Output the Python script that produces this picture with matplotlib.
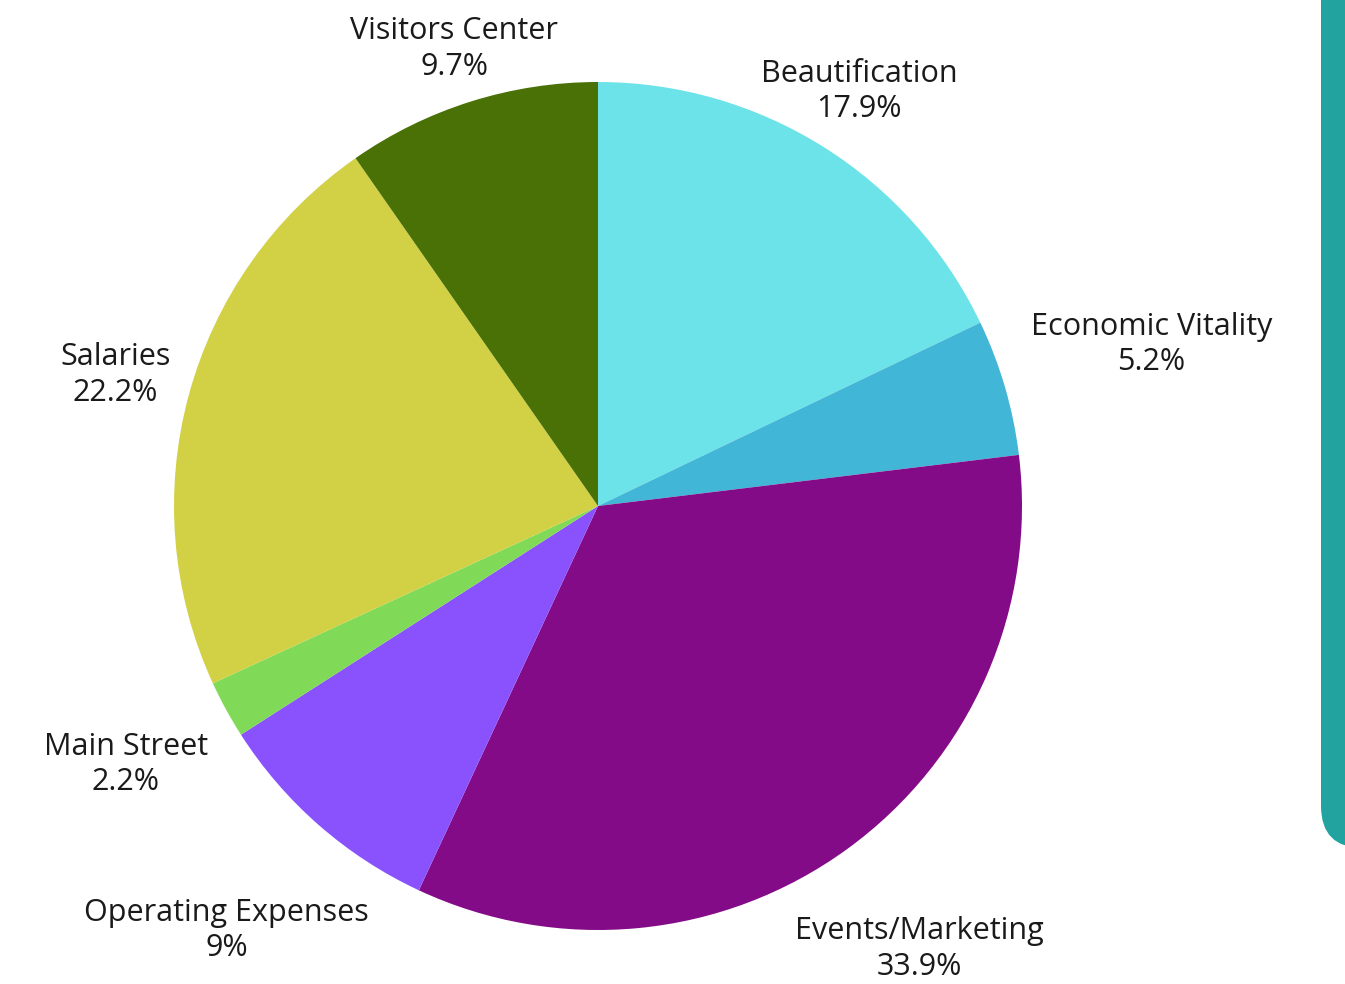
import matplotlib
matplotlib.use("Agg")
import matplotlib.pyplot as plt
import matplotlib.transforms as mtransforms
from matplotlib.patches import FancyBboxPatch
import numpy as np

categories = ["Beautification", "Economic Vitality", "Events/Marketing",
              "Operating Expenses", "Main Street", "Salaries", "Visitors Center"]
values = [17.9, 5.2, 33.9, 9.0, 2.2, 22.2, 9.7]
pct_labels = ["17.9%", "5.2%", "33.9%", "9%", "2.2%", "22.2%", "9.7%"]
colors = ["#6BE3E8", "#42B6D6", "#840B88", "#8A52FC", "#80DA58", "#D2D146", "#497106"]
label_dist = [1.155, 1.36, 1.29, 1.33, 1.27, 1.18, 1.13]

W, H = 1345, 984
fig = plt.figure(figsize=(W / 100, H / 100), dpi=100)
ax = fig.add_axes([0, 0, 1, 1])
R = 424.0
cx, cy = 598.0, H - 506.0

wedges, _ = ax.pie(values, colors=colors, startangle=90, counterclock=False,
                   radius=1.0, center=(0, 0), frame=True,
                   wedgeprops=dict(linewidth=0))
ax.set_xlim(-cx / R, (W - cx) / R)
ax.set_ylim(-cy / R, (H - cy) / R)
ax.set_aspect("equal")
ax.axis("off")

font = ["Open Sans", "DejaVu Sans"]
for w, name, pct, d in zip(wedges, categories, pct_labels, label_dist):
    ang = np.deg2rad((w.theta1 + w.theta2) / 2)
    x, y = d * np.cos(ang), d * np.sin(ang)
    ax.text(x, y, f"{name}\n{pct}", ha="center", va="center",
            fontsize=22, family=font, color="#1a1a1a", linespacing=1.25)

bar = FancyBboxPatch((1321, 136), 200, 1000,
                     boxstyle="round,pad=0,rounding_size=42",
                     facecolor="#22A39F", edgecolor="none",
                     transform=mtransforms.IdentityTransform())
fig.add_artist(bar)

fig.savefig("out.png", dpi=100, facecolor="white")
